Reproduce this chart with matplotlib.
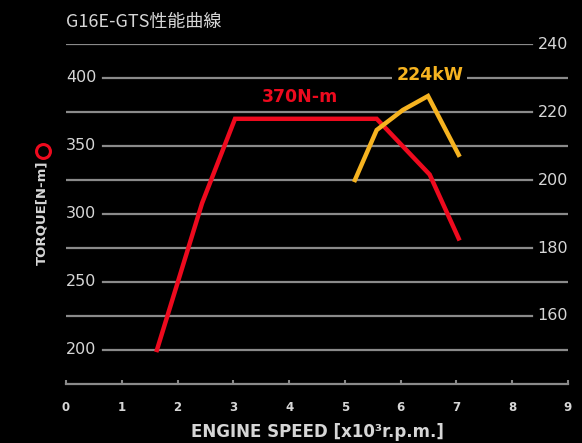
import matplotlib.pyplot as plt
from matplotlib.lines import Line2D

# Torque curve (N-m) vs engine speed (x1000 rpm)
torque_rpm = [1.63, 2.44, 3.03, 5.57, 6.52, 7.04]
torque_nm = [200, 308, 370, 370, 329, 282]

# Power curve (kW)
power_rpm = [5.18, 5.57, 6.04, 6.49, 7.04]
power_kw = [200, 214.7, 220.6, 224.7, 207.4]

x_ticks = list(range(10))
torque_ticks = [200, 250, 300, 350, 400]
power_ticks = [160, 180, 200, 220, 240]

narrow = ['DejaVu Sans Condensed', 'DejaVu Sans']
red = '#ee0a1e'
orange = '#f6b320'
grey = '#8a8a8a'
txt = '#d6d6d6'

fig = plt.figure(figsize=(5.82, 4.43), dpi=100, facecolor='black')
W, H = 582, 443
ax = fig.add_axes([66 / W, (H - 384) / H, (568 - 66) / W, (384 - 44) / H])
ax.set_facecolor('black')
ax.set_xlim(0, 9)
ax.set_ylim(175, 425)
ax2 = ax.twinx()
ax2.set_ylim(140, 240)

for a in (ax, ax2):
    for s in a.spines.values():
        s.set_visible(False)
    a.set_yticks([])

# grid lines: labelled ones start after left labels, the others stop before right labels
for t in torque_ticks:
    ax.axhline(t, xmin=(103 - 66) / 502, xmax=1, color=grey, lw=1.6, zorder=1)
for t in [225, 275, 325, 375, 425]:
    ax.axhline(t, xmin=0, xmax=(532 - 66) / 502, color=grey, lw=1.6, zorder=1)
ax.axhline(175, xmin=0, xmax=1, color=grey, lw=1.6, zorder=1, clip_on=False)

ytr = ax.get_yaxis_transform()
for t in torque_ticks:
    ax.text(0, t, str(t), transform=ytr, ha='left', va='center', color=txt,
            fontsize=11.5, family=narrow)
ytr2 = ax2.get_yaxis_transform()
for p in power_ticks:
    ax2.text(1, p, str(p), transform=ytr2, ha='right', va='center', color=txt,
             fontsize=11.5, family=narrow)

ax.set_xticks(x_ticks)
ax.set_xticklabels([str(x) for x in x_ticks], family=narrow, fontsize=8.5,
                   color=txt, fontweight='bold')
ax.tick_params(axis='x', direction='in', length=3, width=1.5, color=grey, pad=12)

ax.plot(torque_rpm, torque_nm, color=red, lw=3.2, zorder=4, solid_joinstyle='miter')
ax2.plot(power_rpm, power_kw, color=orange, lw=3.2, zorder=3, solid_joinstyle='miter')

ax.text(4.2, 386, '370N-m', color=red, fontsize=12.5, family=narrow,
        ha='center', va='center', fontweight='bold')
ax2.text(6.52, 231, '224kW', color=orange, fontsize=12.5, family=narrow,
         ha='center', va='center', fontweight='bold',
         bbox=dict(facecolor='black', edgecolor='none', pad=3))

fig.text(66 / W, 1 - 22 / H, 'G16E-GTS性能曲線', color=txt, fontsize=13,
         family=['Noto Sans CJK JP', 'DejaVu Sans'], ha='left', va='center')
fig.text(317 / W, 1 - 432 / H, 'ENGINE SPEED [x10³r.p.m.]', color=txt, fontsize=12,
         family=narrow, fontweight='bold', ha='center', va='center')
fig.text(42 / W, 1 - 213 / H, 'TORQUE[N-m]', color=txt, fontsize=9.5,
         family=narrow, fontweight='bold', rotation=90, ha='center', va='center')
fig.add_artist(Line2D([42.5 / W], [1 - 151 / H], transform=fig.transFigure,
                      marker='o', markersize=10, markerfacecolor='none',
                      markeredgecolor=red, markeredgewidth=2.2, linestyle='none'))

fig.savefig('out.png', dpi=100, facecolor='black')
